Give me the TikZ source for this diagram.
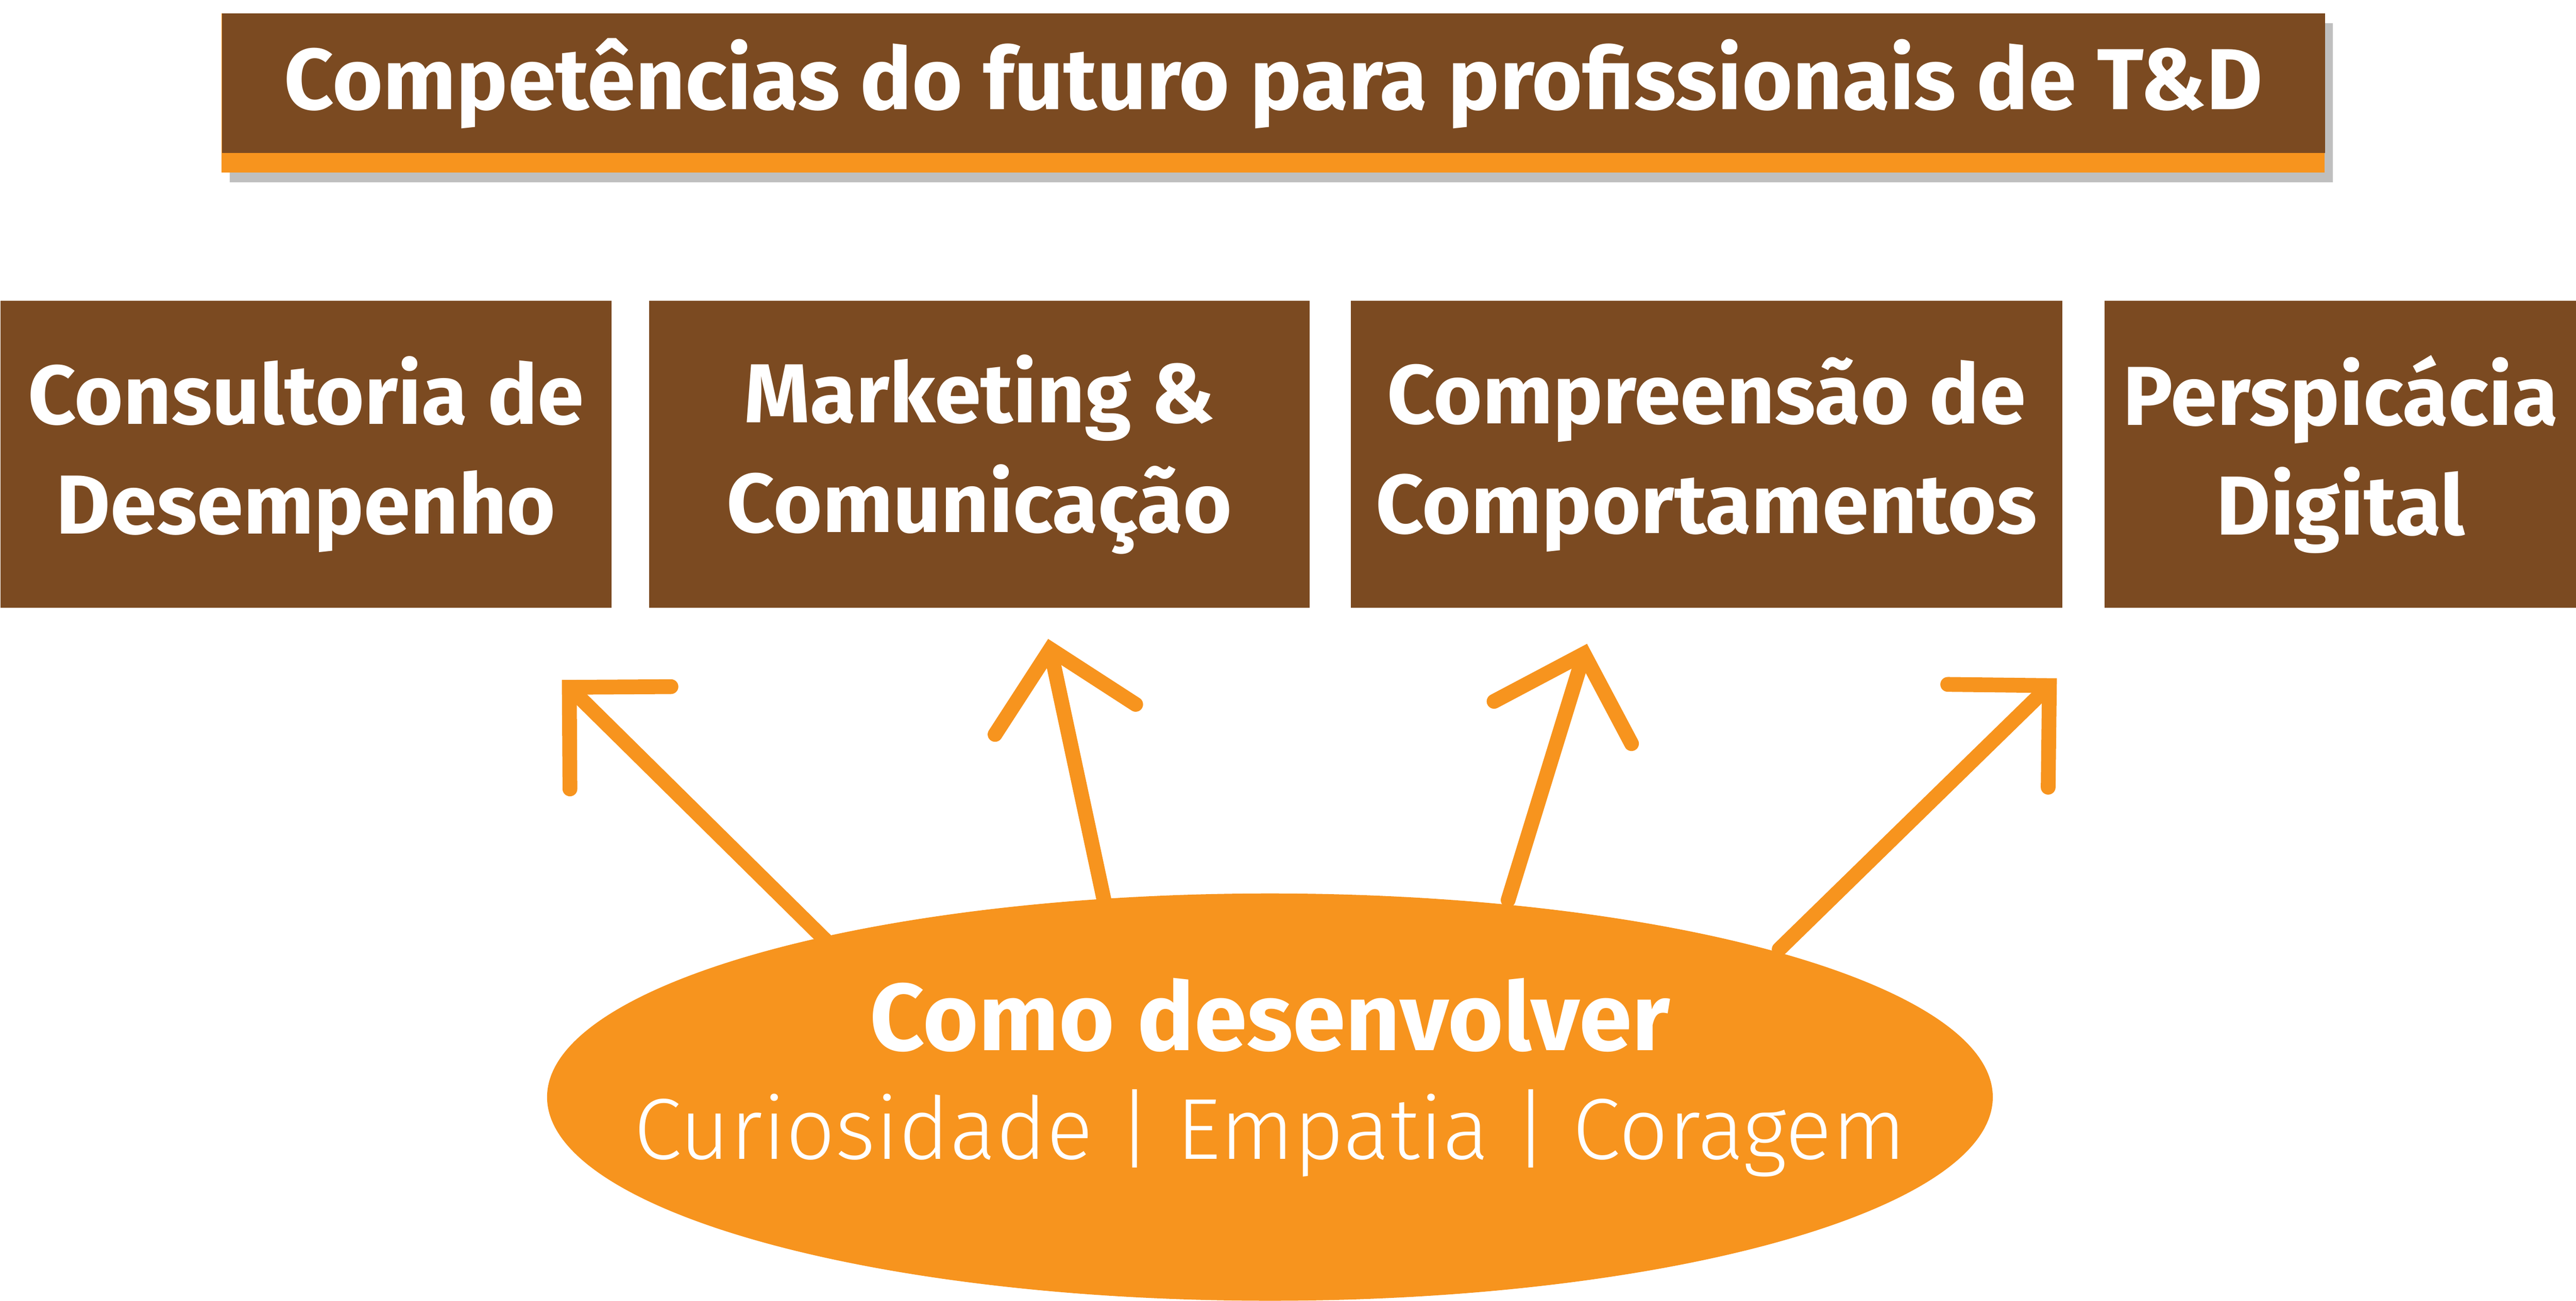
\documentclass[tikz,border=0pt]{standalone}
\usepackage{fontspec}
\setmainfont{Fira Sans}
\newfontfamily\lightfont{Fira Sans Light}
\usetikzlibrary{arrows.meta,shapes.geometric}
\definecolor{brownc}{RGB}{123,74,33}
\definecolor{orangec}{RGB}{247,148,30}
\begin{document}
\begin{tikzpicture}[x=0.04cm,y=-0.04cm,
  box/.style={fill=brownc,text=white,align=center,inner sep=0,font=\fontsize{58}{76}\selectfont\bfseries},
  arr/.style={draw=orangec,line width=0.36cm,line cap=round,-{Straight Barb[length=1.75cm,width=3.5cm,line cap=round]}}]
\useasboundingbox (0,0) rectangle (1568,792);
% title
\fill[black!25] (140,14) rectangle (1420,111);
\fill[orangec] (135,8) rectangle (1415,105);
\node[box,minimum width=1280*0.04cm,minimum height=85*0.04cm,anchor=north west,font=\fontsize{60}{70}\selectfont\bfseries] (title) at (135,8) {Competências do futuro para profissionais de T\&D};
% boxes
\node[box,minimum width=372*0.04cm,minimum height=187*0.04cm,anchor=north west] (b1) at (0,183) {Consultoria de\\Desempenho};
\node[box,minimum width=402*0.04cm,minimum height=187*0.04cm,anchor=north west] (b2) at (395,183) {Marketing \&\\Comunicação};
\node[box,minimum width=433*0.04cm,minimum height=187*0.04cm,anchor=north west] (b3) at (822,183) {Compreensão de\\Comportamentos};
\node[box,minimum width=287*0.04cm,minimum height=187*0.04cm,anchor=north west] (b4) at (1281,183) {Perspicácia\\Digital};
% ellipse
\node[ellipse,fill=orangec,minimum width=880*0.04cm,minimum height=248*0.04cm,inner sep=0] (ell) at (773,668) {};
\node[text=white,font=\fontsize{66}{70}\selectfont\bfseries] (como) at (773,618) {Como desenvolver};
\node[text=white,font=\lightfont\fontsize{60}{70}\selectfont] (cur) at (773,690) {Curiosidade | Empatia | Coragem};
% arrows
\coordinate (s1) at (503,573); \coordinate (t1) at (342,414);
\coordinate (s2) at (672,548); \coordinate (t2) at (638,389);
\coordinate (s3) at (918,548); \coordinate (t3) at (966,392);
\coordinate (s4) at (1083,578); \coordinate (t4) at (1252,413);
\draw[arr] (s1) -- (t1);
\draw[arr] (s2) -- (t2);
\draw[arr] (s3) -- (t3);
\draw[arr] (s4) -- (t4);
\end{tikzpicture}
\end{document}
